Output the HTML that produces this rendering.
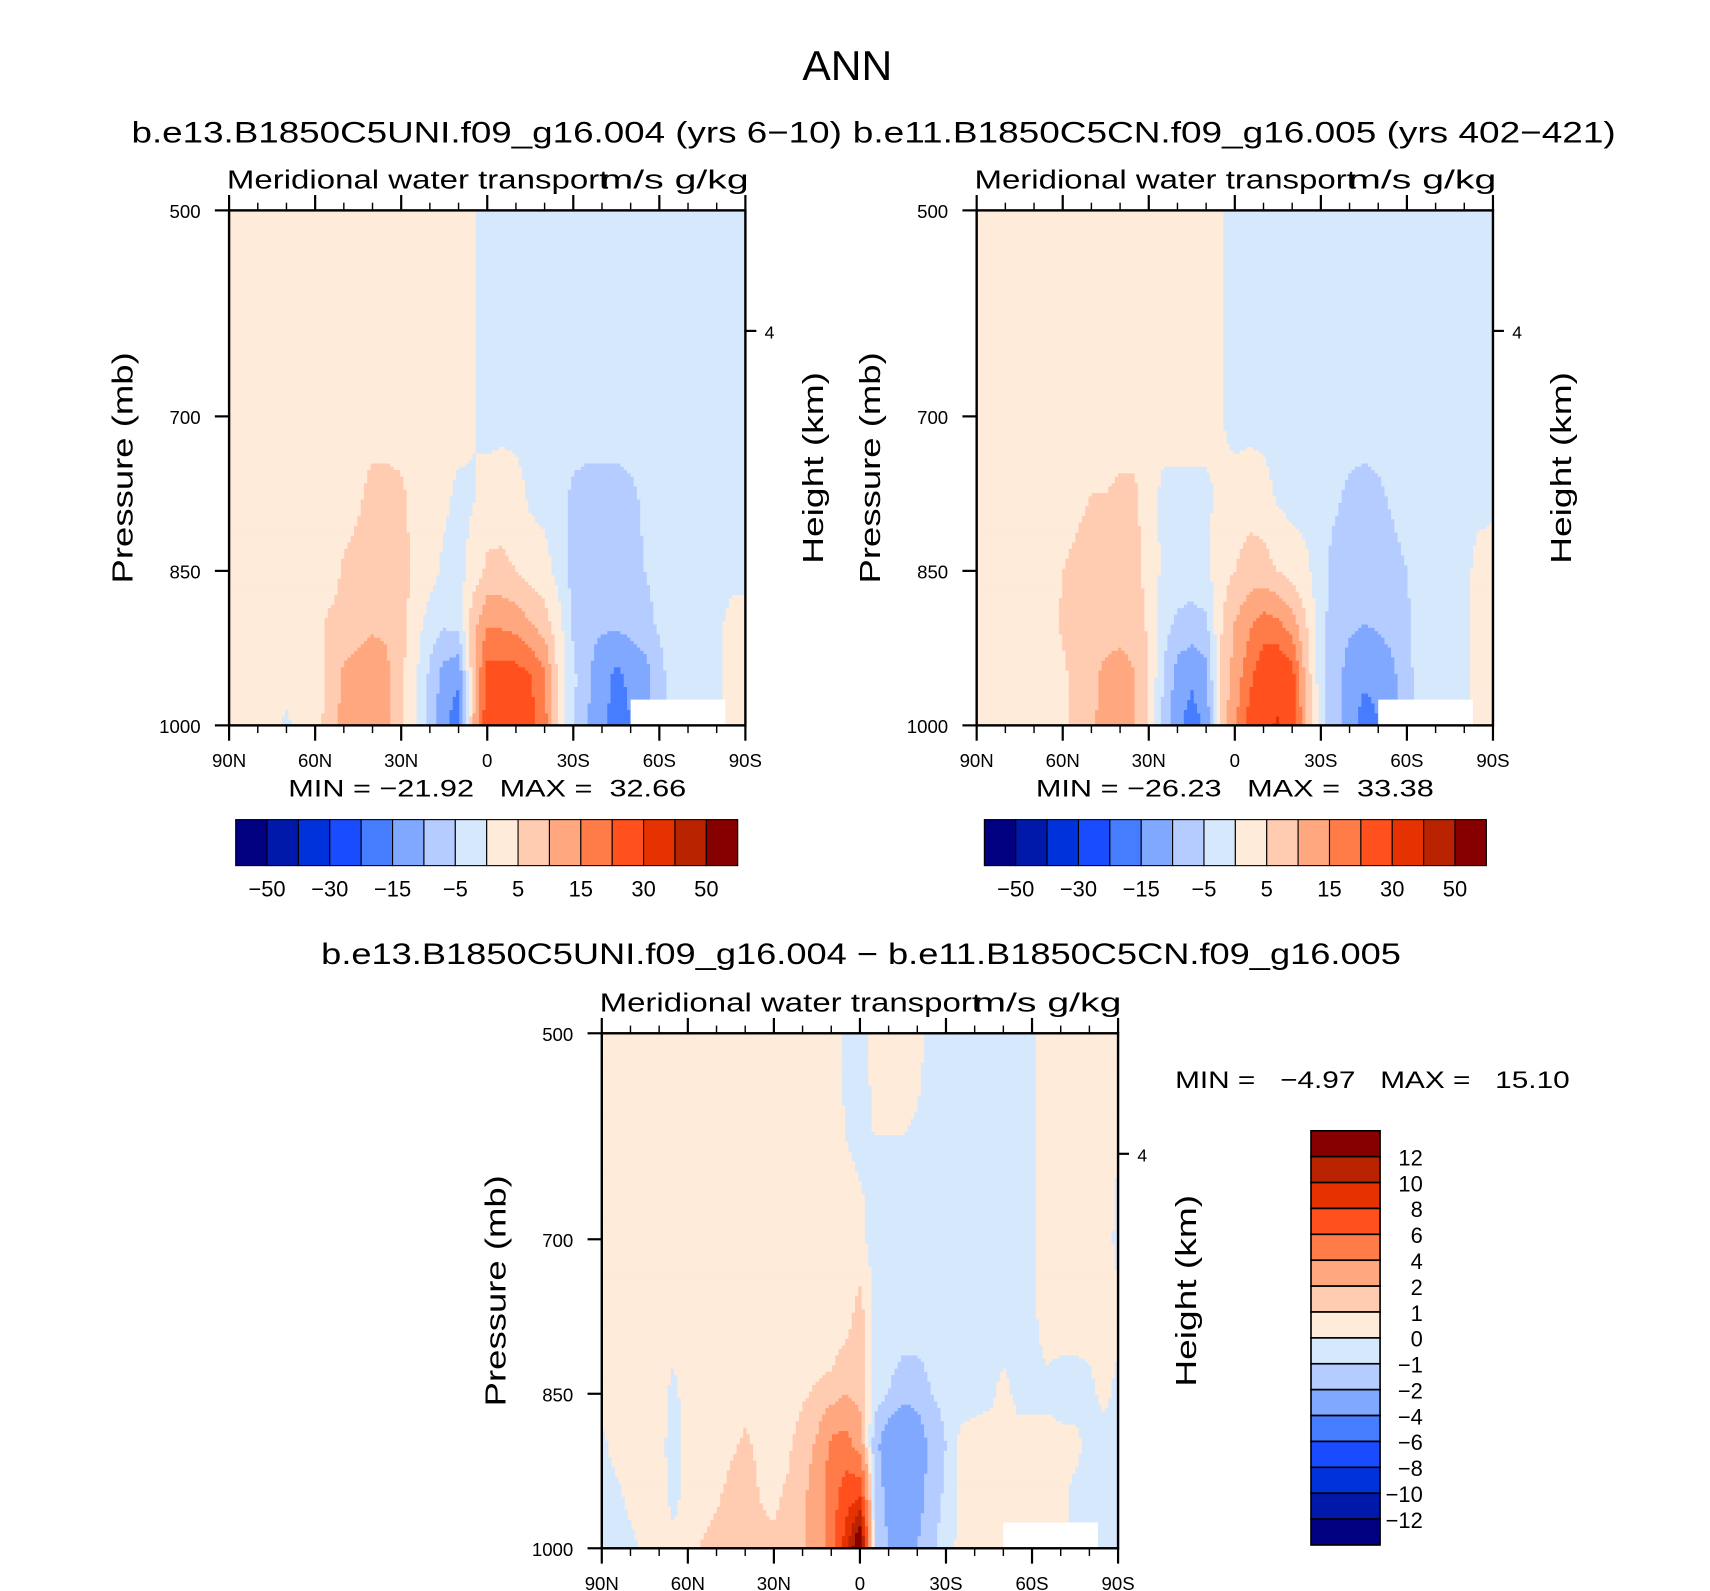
<!DOCTYPE html>
<html><head><meta charset="utf-8">
<style>
html,body{margin:0;padding:0;background:#fff;}
svg{display:block;font-family:"Liberation Sans",sans-serif;}
.pre{white-space:pre;}
</style></head>
<body>
<svg id="fig" xmlns="http://www.w3.org/2000/svg" width="1710" height="1591" viewBox="0 0 1560 1452" preserveAspectRatio="none">
<text x="773" y="73" font-size="38" text-anchor="middle" textLength="82" lengthAdjust="spacingAndGlyphs">ANN</text>
<text x="120" y="130" font-size="27" textLength="648" lengthAdjust="spacingAndGlyphs">b.e13.B1850C5UNI.f09_g16.004 (yrs 6−10)</text>
<text x="778" y="130" font-size="27" textLength="696" lengthAdjust="spacingAndGlyphs">b.e11.B1850C5CN.f09_g16.005 (yrs 402−421)</text>
<text x="293" y="880" font-size="27" textLength="985" lengthAdjust="spacingAndGlyphs">b.e13.B1850C5UNI.f09_g16.004 − b.e11.B1850C5CN.f09_g16.005</text>
<g id="panels"></g>
</svg>
<script>
// ---------- data ----------
const lats = [90,85,80,75,70,65,60,55,50,45,40,35,30,25,20,15,10,5,0,-5,-10,-15,-20,-25,-30,-35,-40,-45,-50,-55,-60,-65,-70,-75,-80,-85,-90];
const levels = [500,700,775,850,900,950,1000];
const xTickLabels = ["90N","60N","30N","0","30S","60S","90S"];
const yTickValues = [500,700,850,1000];
const absBounds = [-50,-40,-30,-20,-15,-10,-5,0,5,10,15,20,30,40,50];
const absLabels = ["−50","−30","−15","−5","5","15","30","50"];
const diffBounds = [-12,-10,-8,-6,-4,-2,-1,0,1,2,4,6,8,10,12];
const diffLabels = ["12","10","8","6","4","2","1","0","−1","−2","−4","−6","−8","−10","−12"];
const palette = ["#000080","#0019aa","#0032dc","#194bff","#467dff","#80a8ff","#b4ccff","#d6e8fc","#ffebda","#ffccb2","#ffa880","#ff7b48","#ff501e","#e63200","#b92300","#870000"];

const field1 = [
 [2,2,2,2,2,2,2,2,2,2,2,2,2,2,2,2,2,0.5,-2,-2,-2,-2,-2,-2,-2,-2,-2,-2,-2,-2,-2,-2,-2,-2,-2,-2,-2],
 [2,2,2,2,2,2,2,2,2,2,2,2,2,2,2,2,2,0.5,-2,-2,-2,-2,-2,-2,-2,-2,-2,-2,-2,-2,-2,-2,-2,-2,-2,-2,-2],
 [2,2,2,2,2,2,2,2,2,4,7,7,6,3,2,1,-1,-0.5,2,3,2,-1,-2,-3,-6,-7,-7,-7,-6,-4,-2,-2,-2,-2,-2,-2,-2],
 [2,2,2,2,2,2,2,2,6,7,8,8,7,4,2,-1,-2,2,6,6,5,3,2,-2,-7,-8,-8,-8,-7,-5,-3,-2,-2,-2,-2,-1,-1],
 [2,2,2,2,2,2,3,6,7,8,9,9,7,2,-2,-4,-3,8,14,14,13,10,7,2,-6,-9,-9,-9,-8,-7,-4,-2,-2,-1,-1,1,1],
 [2,2,2,2,2,2,3,6,11,12,13,11,6,1,-6,-12,-14,8,22,22,22,20,16,3,-4,-9,-13,-16,-14,-12,-7,-2,-2,-2,-2,2,2],
 [2,2,2,2,-1,2,3,7,12,13,14,11,6,1,-7,-14,-18,9,24,24,24,22,17,3,-4,-10,-14,-17,-15,-12,-7,-2,-2,-2,-2,2,2]
];
const field2 = [
 [2,2,2,2,2,2,2,2,2,2,2,2,2,2,2,2,2,0.5,-2,-2,-2,-2,-2,-2,-2,-2,-2,-2,-2,-2,-2,-2,-2,-2,-2,-2,-2],
 [2,2,2,2,2,2,2,2,2,2,2,2,2,2,2,2,2,0.5,-2,-2,-2,-2,-2,-2,-2,-2,-2,-2,-2,-2,-2,-2,-2,-2,-2,-2,-1],
 [2,2,2,2,2,2,3,4,5,5,6,6,2,-1,-1,-1,-1,1,2,3,2,-1,-2,-2,-3,-4,-6,-7,-6,-4,-2,-2,-2,-2,-2,-2,-1],
 [2,2,2,2,2,2,5,6,7,7,7,7,3,-1,-2,-2,-1,3,5,7,7,5,3,1,-3,-7,-8,-8,-8,-7,-5,-2,-2,-2,-2,2,2],
 [2,2,2,2,2,2,6,7,8,8,8,8,4,-3,-6,-7,-6,4,10,14,17,16,12,5,-3,-8,-9,-10,-9,-8,-6,-2,-1,-1,-1,2,2],
 [2,2,2,2,2,2,4,7,9,11,12,10,5,-5,-12,-14,-12,6,12,18,24,25,22,8,-3,-8,-12,-14,-14,-11,-7,-2,-1,-1,-1,2,2],
 [2,2,2,2,2,2,4,7,9,12,13,10,5,-6,-14,-17,-14,7,14,22,28,31,25,9,-3,-8,-13,-17,-15,-12,-7,-2,-1,-1,-1,2,2]
];
const field3 = [
 [0.5,0.5,0.5,0.5,0.5,0.5,0.5,0.5,0.5,0.5,0.5,0.5,0.5,0.5,0.5,0.5,0.5,-0.3,-0.5,0.3,0.5,0.5,0.3,-0.3,-0.5,-0.5,-0.5,-0.5,-0.5,-0.5,-0.2,0.5,0.5,0.5,0.5,0.5,0.5],
 [0.5,0.5,0.5,0.5,0.5,0.5,0.5,0.5,0.5,0.5,0.5,0.5,0.5,0.5,0.5,0.5,0.5,0.3,0.2,-0.3,-0.5,-0.5,-0.5,-0.5,-0.5,-0.5,-0.5,-0.5,-0.5,-0.5,-0.3,0.5,0.5,0.5,0.5,0.5,-0.3],
 [0.5,0.5,0.5,0.5,0.5,0.5,0.5,0.5,0.5,0.5,0.5,0.5,0.5,0.5,0.5,0.5,0.3,0.5,1.5,-0.3,-0.5,-0.5,-0.5,-0.5,-0.5,-0.5,-0.5,-0.5,-0.5,-0.5,-0.3,0.5,0.5,0.5,0.5,0.5,0.3],
 [0.5,0.5,0.5,0.5,0.5,-0.3,0.5,0.5,0.5,0.7,0.8,0.7,0.6,0.7,0.9,1.1,1.3,2,1.5,-0.5,-1,-1.5,-1.5,-1,-0.8,-0.5,-0.4,-0.3,0.3,-0.3,-0.3,-0.3,-0.5,-0.5,-0.3,0.3,-0.3],
 [-0.3,0.4,0.4,0.4,0.4,-0.5,0.5,0.5,0.6,0.9,1.1,0.9,0.8,0.9,1.3,2.2,4.5,5,3,-1.5,-3,-4,-3,-1.5,-1,0.3,0.5,0.6,0.6,0.5,0.5,0.5,0.4,0.3,-0.3,-0.5,-0.5],
 [-0.5,-0.3,0.3,0.4,0.4,-0.3,0.4,0.6,0.9,1.2,1.2,1.0,0.9,1.1,1.6,3,5,7,8,-1,-2.5,-3.5,-2.5,-1.5,-0.8,0.3,0.5,0.5,0.5,0.4,0.3,0.3,0.3,-0.3,-0.5,-0.5,-0.5],
 [-0.6,-0.4,-0.3,0.3,0.4,0.3,0.6,1.1,1.3,1.2,1.1,1.1,1.1,1.3,1.8,3,5,9,15,-1,-2,-2.5,-2,-1.2,-0.5,0.3,0.5,0.5,0.5,0.4,0.3,0.3,0.3,-0.3,-0.5,-0.5,-0.5]
];

// ---------- helpers ----------
const NS="http://www.w3.org/2000/svg";
const root=document.getElementById('panels');
function mk(tag,attrs,parent){const e=document.createElementNS(NS,tag);for(const k in attrs)e.setAttribute(k,attrs[k]);(parent||root).appendChild(e);return e;}
function txt(s,attrs,parent){const e=mk('text',attrs,parent);e.textContent=s;return e;}
function interp(field,lat,p){
  let fi=(90-lat)/5; fi=Math.max(0,Math.min(lats.length-1.0001,fi));
  const i0=Math.floor(fi), t=fi-i0;
  let j0=0; while(j0<levels.length-2 && p>levels[j0+1]) j0++;
  let u=(p-levels[j0])/(levels[j0+1]-levels[j0]); u=Math.max(0,Math.min(1,u));
  const a=field[j0][i0]*(1-t)+field[j0][i0+1]*t;
  const b=field[j0+1][i0]*(1-t)+field[j0+1][i0+1]*t;
  return a*(1-u)+b*u;
}
function bin(v,bounds){let k=0;while(k<bounds.length&&v>=bounds[k])k++;return k;}

function panel(cfg){
  const g=mk('g',{});
  
  
  const x0=cfg.x0,y0=cfg.y0,W=471,H=470;
  const xs=lat=>x0+(90-lat)/180*W;
  const ys=p=>y0+(p-500)/500*H;
  const fg=mk('g',{},g);
  
  
  const step=3;
  for(let y=y0;y<y0+H;y+=step){
    const p=500+((y+step/2)-y0)/H*500;
    let runStart=x0,runBin=-1;
    for(let x=x0;x<=x0+W;x+=step){
      let b=-2;
      if(x<x0+W){const lat=90-((x+step/2)-x0)/W*180;b=bin(interp(cfg.field,lat,p),cfg.bounds);}
      if(b!==runBin){
        if(runBin>=0){const r=mk('rect',{x:runStart,y:y,width:Math.min(x,x0+W)-runStart+0.6,height:Math.min(step+0.6,y0+H-y),fill:palette[runBin]},fg);
          }
        runStart=x;runBin=b;
      }
    }
  }
  const m=mk('rect',{x:xs(-50),y:ys(975),width:xs(-83)-xs(-50),height:ys(1000)-ys(975),fill:'#fff'},g);
  
  
  const fr=mk('rect',{x:x0,y:y0,width:W,height:H,fill:'none',stroke:'#000','stroke-width':2.2},g);
  
  
  for(let lat=90;lat>=-90;lat-=10){
    const major=lat%30===0, x=xs(lat);
    mk('line',{x1:x,x2:x,y1:y0,y2:y0-(major?14:7),stroke:'#000','stroke-width':major?2:1.3},g);
    mk('line',{x1:x,x2:x,y1:y0+H,y2:y0+H+(major?14:7),stroke:'#000','stroke-width':major?2:1.3},g);
  }
  xTickLabels.forEach((s,i)=>{
    const t=txt(s,{x:xs(90-30*i),y:y0+H+38,'font-size':17,'text-anchor':'middle'},g);
    
    
  });
  yTickValues.forEach(v=>{
    mk('line',{x1:x0-13,x2:x0,y1:ys(v),y2:ys(v),stroke:'#000','stroke-width':2},g);
    const t=txt(String(v),{x:x0-26,y:ys(v)+7,'font-size':17,'text-anchor':'end'},g);
    
    
  });
  mk('line',{x1:x0+W,x2:x0+W+10,y1:y0+110,y2:y0+110,stroke:'#000','stroke-width':2},g);
  const h4=txt('4',{x:x0+W+22,y:y0+117,'font-size':16,'text-anchor':'middle'},g);
  
  
  const yl=txt('Pressure  (mb)',{x:0,y:0,'font-size':26,'text-anchor':'middle',textLength:211,lengthAdjust:'spacingAndGlyphs',transform:`translate(${x0-88},${y0+235}) rotate(-90)`},g);
  
  
  const hl=txt('Height  (km)',{x:0,y:0,'font-size':26,'text-anchor':'middle',textLength:175,lengthAdjust:'spacingAndGlyphs',transform:`translate(${x0+W+71},${y0+235}) rotate(-90)`},g);
  
  
  const l1=txt('Meridional water transport',{x:x0-2,y:y0-20,'font-size':24,textLength:348,lengthAdjust:'spacingAndGlyphs'},g);
  
  
  const l2=txt('m/s g/kg',{x:x0+W+3,y:y0-20,'font-size':24,'text-anchor':'end',textLength:135,lengthAdjust:'spacingAndGlyphs'},g);
  
  
  const mm=txt(cfg.minmax,{x:cfg.mmx,y:cfg.mmy,'font-size':22,textLength:cfg.mmw,lengthAdjust:'spacingAndGlyphs','class':'pre'},g);
  
  
}
function hbar(x0,name){
  const g=mk('g',{});
  
  
  const w=458/16;
  palette.forEach((c,i)=>{
    const r=mk('rect',{x:x0+i*w,y:748,width:w,height:42,fill:c,stroke:'#000','stroke-width':1},g);
    
    
  });
  absLabels.forEach((s,k)=>{
    const t=txt(s,{x:x0+(1+2*k)*w,y:818,'font-size':20,'text-anchor':'middle'},g);
    
    
  });
}
function vbar(){
  const g=mk('g',{});
  
  
  const h=378/16;
  palette.slice().reverse().forEach((c,i)=>{
    const r=mk('rect',{x:1196,y:1032+i*h,width:63,height:h,fill:c,stroke:'#000','stroke-width':1.5},g);
    
    
  });
  diffLabels.forEach((s,k)=>{
    const t=txt(s,{x:1298,y:1032+(k+1)*h+8,'font-size':20,'text-anchor':'end'},g);
    
    
  });
}
panel({name:'case1-panel',x0:209,y0:192,field:field1,bounds:absBounds,minmax:'MIN = −21.92   MAX =  32.66',mmx:263,mmy:727,mmw:363});
panel({name:'case2-panel',x0:891,y0:192,field:field2,bounds:absBounds,minmax:'MIN = −26.23   MAX =  33.38',mmx:945,mmy:727,mmw:363});
panel({name:'diff-panel',x0:549,y0:943,field:field3,bounds:diffBounds,minmax:'MIN =   −4.97   MAX =   15.10',mmx:1072,mmy:993,mmw:360});
hbar(215,'case1-colorbar');
hbar(898,'case2-colorbar');
vbar();
</script>
</body></html>
